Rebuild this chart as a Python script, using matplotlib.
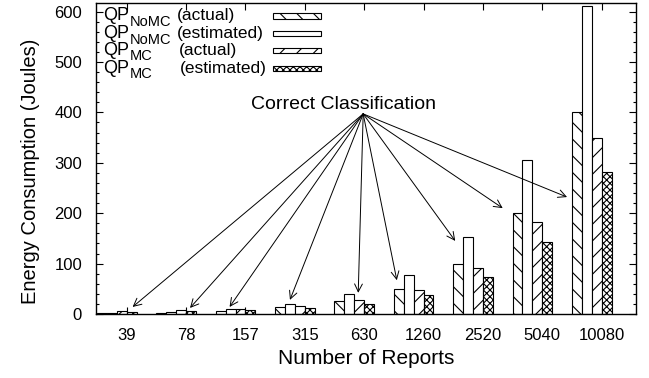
import matplotlib
matplotlib.use('Agg')
import matplotlib.pyplot as plt
from matplotlib.patches import Rectangle

plt.rcParams['font.family'] = ['Liberation Sans', 'DejaVu Sans']
plt.rcParams['hatch.linewidth'] = 0.8

# number of reports per run (x categories)
reports = ['39', '78', '157', '315', '630', '1260', '2520', '5040', '10080']

# energy in joules
nomc_actual = [1, 2.6, 6, 13, 25, 50, 100, 200, 400]
nomc_estimated = [2.6, 4.6, 9.3, 20, 39, 77, 153, 305, 611]
mc_actual = [6.6, 8, 10, 15, 27, 48, 92, 182, 349]
mc_estimated = [4.6, 6, 7.3, 11, 19, 38, 73, 142, 282]

series = [nomc_actual, nomc_estimated, mc_actual, mc_estimated]
hatches = ['\\\\', '', '//', 'xxxxx']
main_names = ['QP', 'QP', 'QP', 'QP']
sub_names = ['NoMC', 'NoMC', 'MC', 'MC']
kinds = ['(actual)', '(estimated)', '(actual)', '(estimated)']

# arrows "Correct Classification" -> each group
arrow_from = (26.9, 397)
arrow_to_x = [3.6, 9.4, 13.4, 19.5, 26.4, 30.3, 36.2, 41.0, 47.5]
arrow_to_y = [14, 12, 14, 28, 42, 67, 145, 210, 232]

W, H = 649, 378
L, R, B, T = 96, 636, 314, 3

fig = plt.figure(figsize=(W / 100, H / 100), dpi=100)
ax = fig.add_axes([L / W, 1 - B / H, (R - L) / W, (B - T) / H])

group = 6
for k, (vals, h) in enumerate(zip(series, hatches)):
    xs = [group * i + k for i in range(len(reports))]
    ax.bar(xs, vals, width=1, align='edge', facecolor='white',
           edgecolor='black', hatch=h, linewidth=0.8)

ax.set_xlim(-0.1, 54.47)
ax.set_ylim(0, 617)
ax.set_xticks([group * i + 3 for i in range(len(reports))])
ax.set_xticklabels(reports)
ax.set_yticks(range(0, 601, 100))
ax.set_yticks(range(0, 617, 20), minor=True)
ax.tick_params(which='both', direction='in', top=True, right=True,
               labelsize=12, width=0.8)
ax.tick_params(which='major', length=5)
ax.tick_params(which='minor', length=2.5)
ax.tick_params(axis='y', pad=10)
ax.tick_params(axis='x', pad=10)
for s in ax.spines.values():
    s.set_linewidth(1.0)

ax.set_xlabel('Number of Reports', fontsize=15, labelpad=4.5)
ax.set_ylabel('Energy Consumption (Joules)', fontsize=14.5)
ax.yaxis.set_label_coords(-0.104, 0.46)

ax.text(24.9, 415, 'Correct Classification', ha='center', va='center',
        fontsize=14)
for tx, ty in zip(arrow_to_x, arrow_to_y):
    ax.annotate('', xy=(tx, ty), xytext=arrow_from,
                arrowprops=dict(arrowstyle='->', lw=0.7, color='black',
                                shrinkA=0, shrinkB=0, mutation_scale=14))


# hand made key, in pixel positions of the figure
def ax_x(px):
    return (px - L) / (R - L)


def ax_y(py):
    return (B - py) / (B - T)


row_y = [15.8, 33.5, 50.5, 68.3]
kind_x = [176.7, 176.7, 179, 180]
for i in range(4):
    base = row_y[i] + 4.5
    ax.text(ax_x(102.7), ax_y(base), main_names[i], fontsize=13,
            va='baseline', ha='left', transform=ax.transAxes)
    ax.text(ax_x(130), ax_y(base + 5.5), sub_names[i], fontsize=10.5,
            va='baseline', ha='left', transform=ax.transAxes)
    ax.text(ax_x(kind_x[i]), ax_y(base), kinds[i], fontsize=12.5,
            va='baseline', ha='left', transform=ax.transAxes)
    ax.add_patch(Rectangle((ax_x(273), ax_y(row_y[i] + 2.7)),
                           48 / (R - L), 5.4 / (B - T),
                           transform=ax.transAxes, facecolor='white',
                           edgecolor='black', hatch=hatches[i],
                           linewidth=0.8, clip_on=False))

fig.savefig('out.png', dpi=100)
